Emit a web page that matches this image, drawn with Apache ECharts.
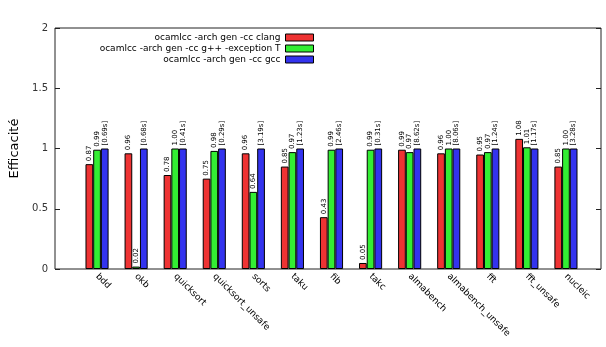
<!DOCTYPE html>
<html><head><meta charset="utf-8">
<script src="https://cdn.jsdelivr.net/npm/echarts@6/dist/echarts.min.js"></script>
<style>html,body{margin:0;padding:0;background:#fff}#c{width:606px;height:347px}</style>
</head><body><div id="c"></div>
<script>
const categories = ['bdd','okb','quicksort','quicksort_unsafe','sorts','taku','fib','takc','almabench','almabench_unsafe','fft','fft_unsafe','nucleic'];
const clangValues = [0.87,0.96,0.78,0.75,0.96,0.85,0.43,0.05,0.99,0.96,0.95,1.08,0.85];
const gppValues = [0.99,0.02,1.00,0.98,0.64,0.97,0.99,0.99,0.97,1.00,0.97,1.01,1.00];
const gccValues = [1,1,1,1,1,1,1,1,1,1,1,1,1];
const gccTimes = ['[0.69s]','[0.68s]','[0.41s]','[0.29s]','[3.19s]','[1.23s]','[2.46s]','[0.31s]','[8.62s]','[8.06s]','[1.24s]','[1.17s]','[3.28s]'];
const seriesNames = ['ocamlcc -arch gen -cc clang','ocamlcc -arch gen -cc g++ -exception T','ocamlcc -arch gen -cc gcc'];
const yTicks = [0,0.5,1,1.5,2];

const font = 'DejaVu Sans';
const chart = echarts.init(document.getElementById('c'), null, {renderer:'canvas'});
const labelCfg = (fmt) => ({
  show:true, position:'top', rotate:90, align:'left', verticalAlign:'middle',
  distance:3, fontSize:7, fontFamily:font, color:'#000', formatter: fmt
});
const mk = (name, data, color, fmt) => ({
  type:'bar', name, data, xAxisIndex:1, yAxisIndex:2,
  barWidth:7.7, barGap:'0%',
  itemStyle:{color, borderColor:'#000', borderWidth:1},
  label: labelCfg(fmt), animation:false
});
chart.setOption({
  animation:false,
  textStyle:{fontFamily:font},
  grid:[
    {left:53, right:5, top:28, bottom:78, show:true, borderColor:'#222', borderWidth:1, backgroundColor:'transparent'},
    {left:77.5, right:20.5, top:28, bottom:78}
  ],
  legend:{
    orient:'vertical', right:292, top:32, align:'right', padding:0,
    icon:'rect',
    itemWidth:28, itemHeight:7, itemGap:0,
    textStyle:{fontFamily:font, fontSize:9, color:'#000', lineHeight:11},
    itemStyle:{borderColor:'#000', borderWidth:1},
    data: seriesNames
  },
  xAxis:[
    {type:'value', gridIndex:0, show:false, min:0, max:1},
    {type:'category', gridIndex:1, data:categories,
     axisLine:{show:false}, axisTick:{show:false},
     axisLabel:{rotate:-45, fontSize:9, fontFamily:font, color:'#000', margin:6, interval:0}}
  ],
  yAxis:[
    {type:'value', gridIndex:0, min:0, max:2, interval:0.5,
     axisLine:{show:false}, splitLine:{show:false},
     axisTick:{show:true, inside:true, length:5, lineStyle:{color:'#222'}},
     axisLabel:{fontSize:10, fontFamily:font, color:'#333', margin:7,
       formatter:(v)=> yTicks.includes(v) ? String(v) : ''},
     name:'Efficacité', nameLocation:'middle', nameGap:34, nameRotate:90,
     nameTextStyle:{fontSize:13, fontFamily:font, color:'#000'}},
    {type:'value', gridIndex:0, position:'right', min:0, max:2, interval:0.5,
     axisLine:{show:false}, splitLine:{show:false}, axisLabel:{show:false},
     axisTick:{show:true, inside:true, length:5, lineStyle:{color:'#222'}}},
    {type:'value', gridIndex:1, min:0, max:2, show:false}
  ],
  series:[
    mk(seriesNames[0], clangValues, '#ee3333', p=>p.value.toFixed(2)),
    mk(seriesNames[1], gppValues, '#33ee33', p=>p.value.toFixed(2)),
    mk(seriesNames[2], gccValues, '#3333ee', p=>gccTimes[p.dataIndex])
  ]
});
</script></body></html>
